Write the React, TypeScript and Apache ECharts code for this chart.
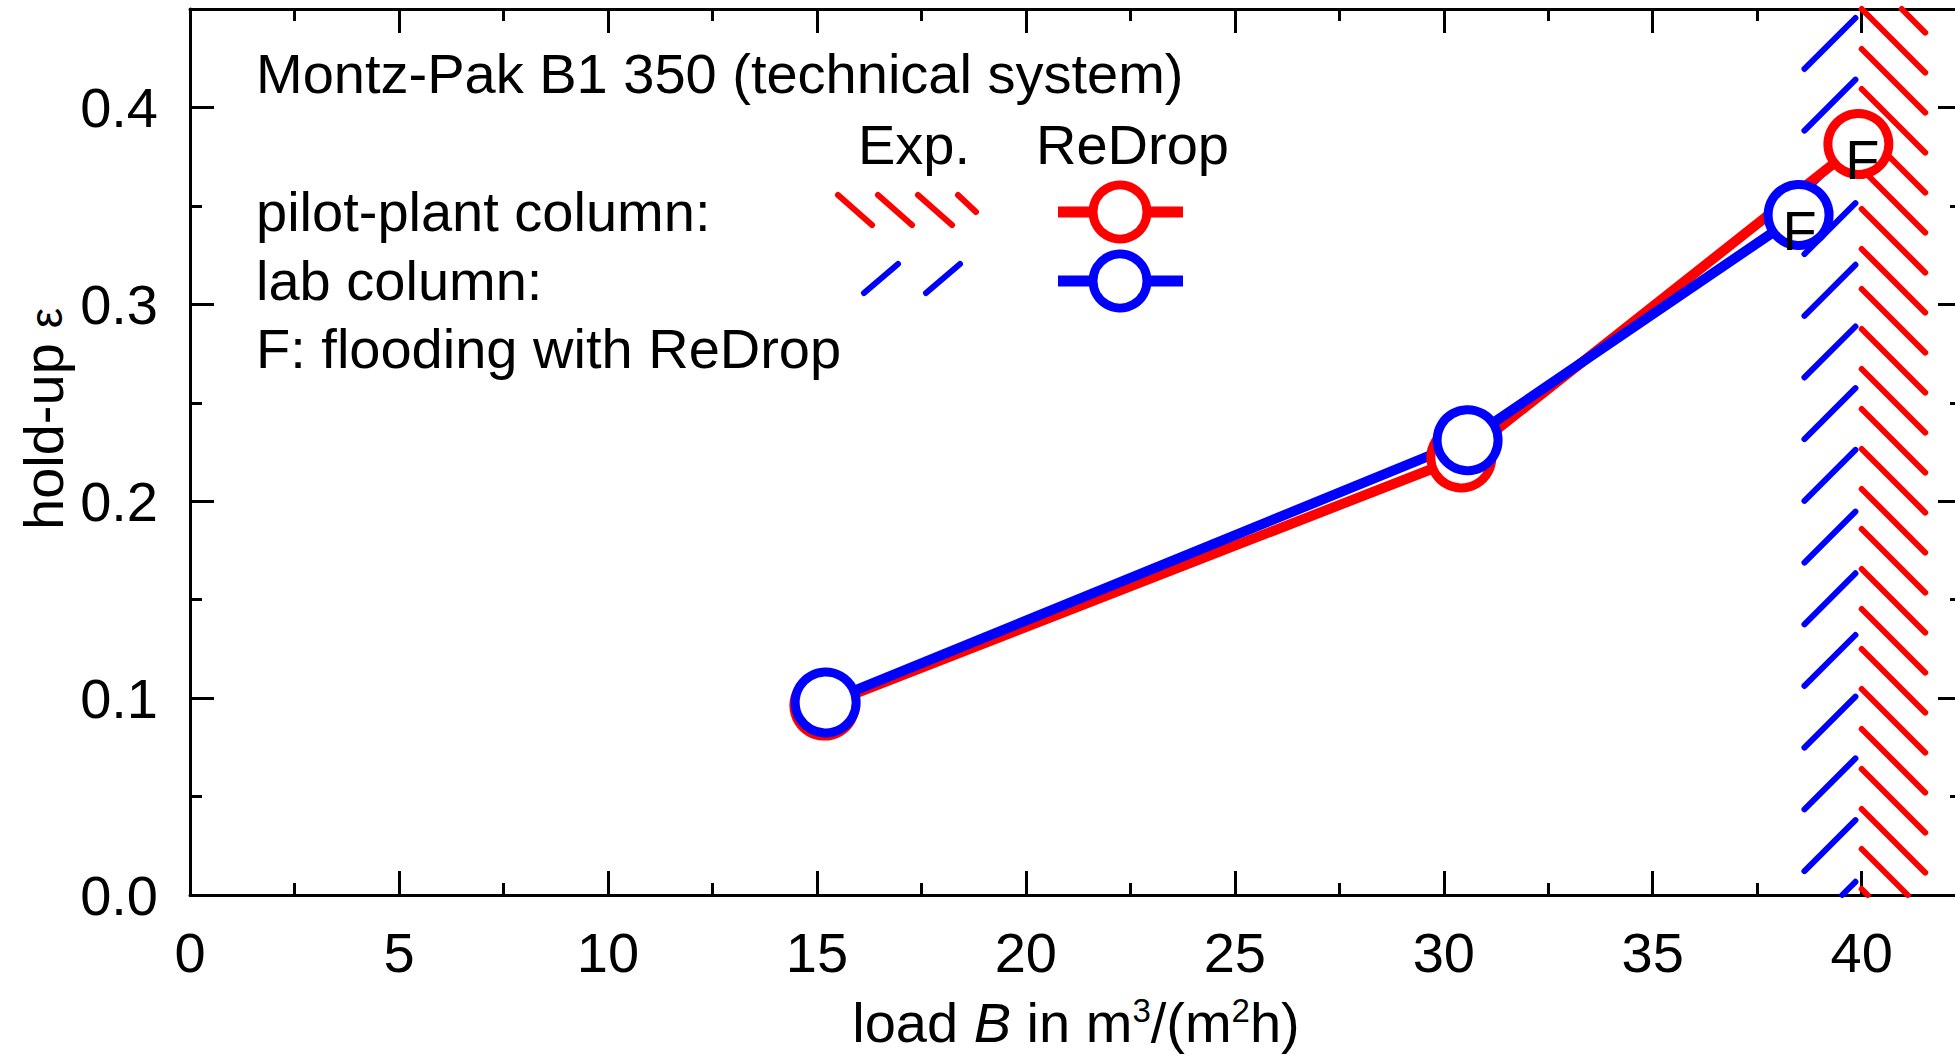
import React, { useEffect, useRef } from "react";
import * as echarts from "echarts";

// ---------- data ----------
const pilotLoad = [15.18, 30.42, 39.92];
const pilotHoldup = [0.0962, 0.2222, 0.3814];
const pilotFlooding = [false, false, true];

const labLoad = [15.21, 30.57, 38.49];
const labHoldup = [0.0978, 0.231, 0.3454];
const labFlooding = [false, false, true];

// experimental flooding regions (load range)
const pilotExpFloodRange = [40.0, 41.52];
const labExpFloodRange = [38.63, 39.85];

const xTickValues = [0, 5, 10, 15, 20, 25, 30, 35, 40];
const xTickLabels = ["0", "5", "10", "15", "20", "25", "30", "35", "40"];
const yTickValues = [0, 0.1, 0.2, 0.3, 0.4];
const yTickLabels = ["0.0", "0.1", "0.2", "0.3", "0.4"];

const titleText = "Montz-Pak B1 350 (technical system)";
const expHeader = "Exp.";
const simHeader = "ReDrop";
const pilotLabel = "pilot-plant column:";
const labLabel = "lab column:";
const floodNote = "F: flooding with ReDrop";
const floodMark = "F";

// ---------- style ----------
const X_MIN = 0;
const X_MAX = 42.4;
const Y_MIN = 0;
const Y_MAX = 0.45;
const FONT = '"Liberation Sans", Arial, Helvetica, sans-serif';
const RED = "#ff0000";
const BLUE = "#0000ff";
const FS = 56;

function findLabel(values: number[], labels: string[], v: number) {
  const i = values.findIndex((t) => Math.abs(t - v) < 1e-9);
  return i >= 0 ? labels[i] : "";
}

function xAxisDef(position: string, interval: number, tickLen: number, line: boolean, labels: boolean) {
  return {
    type: "value",
    position,
    min: X_MIN,
    max: X_MAX,
    interval,
    axisLine: { show: line, onZero: false, lineStyle: { color: "#000", width: 3 } },
    axisTick: { show: true, inside: true, length: tickLen, lineStyle: { color: "#000", width: 3 } },
    axisLabel: {
      show: labels,
      margin: 29,
      color: "#000",
      fontSize: FS,
      fontFamily: FONT,
      formatter: (v: number) => findLabel(xTickValues, xTickLabels, v),
    },
    splitLine: { show: false },
  };
}

function yAxisDef(position: string, interval: number, tickLen: number, line: boolean, labels: boolean) {
  return {
    type: "value",
    position,
    min: Y_MIN,
    max: Y_MAX,
    interval,
    axisLine: { show: line, onZero: false, lineStyle: { color: "#000", width: 3 } },
    axisTick: { show: true, inside: true, length: tickLen, lineStyle: { color: "#000", width: 3 } },
    axisLabel: {
      show: labels,
      margin: 32,
      color: "#000",
      fontSize: FS,
      fontFamily: FONT,
      formatter: (v: number) => findLabel(yTickValues, yTickLabels, v),
    },
    splitLine: { show: false },
  };
}

function hatchRenderer(direction: "back" | "fwd", spacing: number, phase: number, color: string, width: number) {
  return (params: any, api: any) => {
    const a = api.coord([api.value(0), Y_MAX]);
    const b = api.coord([api.value(1), Y_MIN]);
    const L = a[0], T = a[1], R = b[0], B = b[1];
    const style = { stroke: color, lineWidth: width, lineCap: "round" };
    const kids: any[] = [];
    if (direction === "back") {
      let c = T - L + phase;
      while (c > T - R) c -= spacing;
      for (; c <= B - L; c += spacing) {
        const xa = Math.max(L, T - c);
        const xb = Math.min(R, B - c);
        if (xb - xa > 0.5) kids.push({ type: "line", shape: { x1: xa, y1: xa + c, x2: xb, y2: xb + c }, style });
      }
    } else {
      let c = T + R + phase;
      while (c > T + L) c -= spacing;
      for (; c <= B + R; c += spacing) {
        const xa = Math.max(L, c - B);
        const xb = Math.min(R, c - T);
        if (xb - xa > 0.5) kids.push({ type: "line", shape: { x1: xa, y1: c - xa, x2: xb, y2: c - xb }, style });
      }
    }
    return { type: "group", children: kids };
  };
}

function lineSeries(name: string, xs: number[], ys: number[], flood: boolean[], color: string, labelOffset: number[]) {
  return {
    name,
    type: "line",
    xAxisIndex: 0,
    yAxisIndex: 0,
    z: 3,
    symbol: "circle",
    symbolSize: 61,
    showAllSymbol: true,
    lineStyle: { color, width: 10 },
    itemStyle: { color: "#fff", borderColor: color, borderWidth: 9 },
    emphasis: { disabled: true },
    data: xs.map((x, i) => ({
      value: [x, ys[i]],
      label: {
        show: flood[i],
        formatter: floodMark,
        position: "inside",
        offset: labelOffset,
        color: "#000",
        fontSize: FS,
        fontFamily: FONT,
      },
    })),
  };
}

function txt(text: string, x: number, y: number, extra: any = {}) {
  return {
    type: "text",
    x,
    y,
    z: 10,
    style: { text, fill: "#000", font: `${FS}px ${FONT}`, verticalAlign: "middle", align: "left", ...extra },
  };
}

function seg(x1: number, y1: number, x2: number, y2: number, color: string, w: number, cap = "round") {
  return { type: "line", z: 10, shape: { x1, y1, x2, y2 }, style: { stroke: color, lineWidth: w, lineCap: cap } };
}

export default function App() {
  const ref = useRef<HTMLDivElement>(null);
  useEffect(() => {
    if (!ref.current) return;
    const chart = echarts.init(ref.current, undefined, { renderer: "svg" });
    const option: any = {
      animation: false,
      backgroundColor: "#fff",
      textStyle: { fontFamily: FONT },
      grid: { left: 190, top: 9, width: 1772, height: 886, containLabel: false },
      xAxis: [
        xAxisDef("bottom", 5, 24, true, true),
        xAxisDef("bottom", 2.5, 12, false, false),
        xAxisDef("top", 5, 24, true, false),
        xAxisDef("top", 2.5, 12, false, false),
      ],
      yAxis: [
        yAxisDef("left", 0.1, 24, true, true),
        yAxisDef("left", 0.05, 12, false, false),
        yAxisDef("right", 0.1, 24, true, false),
        yAxisDef("right", 0.05, 12, false, false),
      ],
      series: [
        {
          type: "custom",
          name: "lab exp",
          xAxisIndex: 0,
          yAxisIndex: 0,
          z: 1,
          silent: true,
          renderItem: hatchRenderer("fwd", 61.7, 9, BLUE, 6),
          data: [labExpFloodRange],
        },
        {
          type: "custom",
          name: "pilot exp",
          xAxisIndex: 0,
          yAxisIndex: 0,
          z: 1,
          silent: true,
          renderItem: hatchRenderer("back", 40, 0, RED, 6),
          data: [pilotExpFloodRange],
        },
        lineSeries("pilot-plant column", pilotLoad, pilotHoldup, pilotFlooding, RED, [4, 15]),
        lineSeries("lab column", labLoad, labHoldup, labFlooding, BLUE, [1, 16]),
      ],
      graphic: [
        txt(titleText, 256, 73),
        txt(expHeader, 858, 144),
        txt(simHeader, 1036, 144),
        txt(pilotLabel, 256, 211),
        txt(labLabel, 256, 280),
        txt(floodNote, 256, 348),
        // legend: experimental hatch samples
        seg(838, 195, 872, 225, RED, 6),
        seg(878, 195, 912, 225, RED, 6),
        seg(918, 195, 952, 225, RED, 6),
        seg(958, 195, 976, 212, RED, 6),
        seg(864, 293, 898, 264, BLUE, 6),
        seg(926, 293, 960, 264, BLUE, 6),
        // legend: ReDrop line + marker
        seg(1058, 212, 1183, 212, RED, 11, "butt"),
        { type: "circle", z: 11, shape: { cx: 1120, cy: 212, r: 27 }, style: { fill: "#fff", stroke: RED, lineWidth: 9 } },
        seg(1058, 281, 1183, 281, BLUE, 11, "butt"),
        { type: "circle", z: 11, shape: { cx: 1120, cy: 281, r: 27 }, style: { fill: "#fff", stroke: BLUE, lineWidth: 9 } },
        // axis titles
        {
          type: "text",
          x: 43,
          y: 530,
          rotation: Math.PI / 2,
          z: 10,
          style: { text: "hold-up", fill: "#000", font: `${FS}px ${FONT}`, align: "left", verticalAlign: "middle" },
        },
        {
          type: "text",
          x: 46,
          y: 318,
          rotation: Math.PI / 2,
          z: 10,
          style: { text: "ε", fill: "#000", font: `46px ${FONT}`, align: "center", verticalAlign: "middle" },
        },
        {
          type: "text",
          x: 1076,
          y: 1022,
          z: 10,
          style: {
            text: "{a|load }{b|B}{a| in m}{s|3}{a|/(m}{s|2}{a|h)}",
            align: "center",
            verticalAlign: "middle",
            fill: "#000",
            rich: {
              a: { fontSize: FS, fontFamily: FONT, lineHeight: 56, fill: "#000" },
              b: { fontSize: FS, fontFamily: FONT, fontStyle: "italic", lineHeight: 56, fill: "#000" },
              s: { fontSize: 33, fontFamily: FONT, lineHeight: 30, verticalAlign: "top", fill: "#000" },
            },
          },
        },
      ],
    };
    chart.setOption(option);
    return () => chart.dispose();
  }, []);
  return (
    <div style={{ position: "fixed", left: 0, top: 0, width: 1955, height: 1058, overflow: "hidden", background: "#fff" }}>
      <div ref={ref} style={{ width: 1990, height: 1058 }} />
    </div>
  );
}
